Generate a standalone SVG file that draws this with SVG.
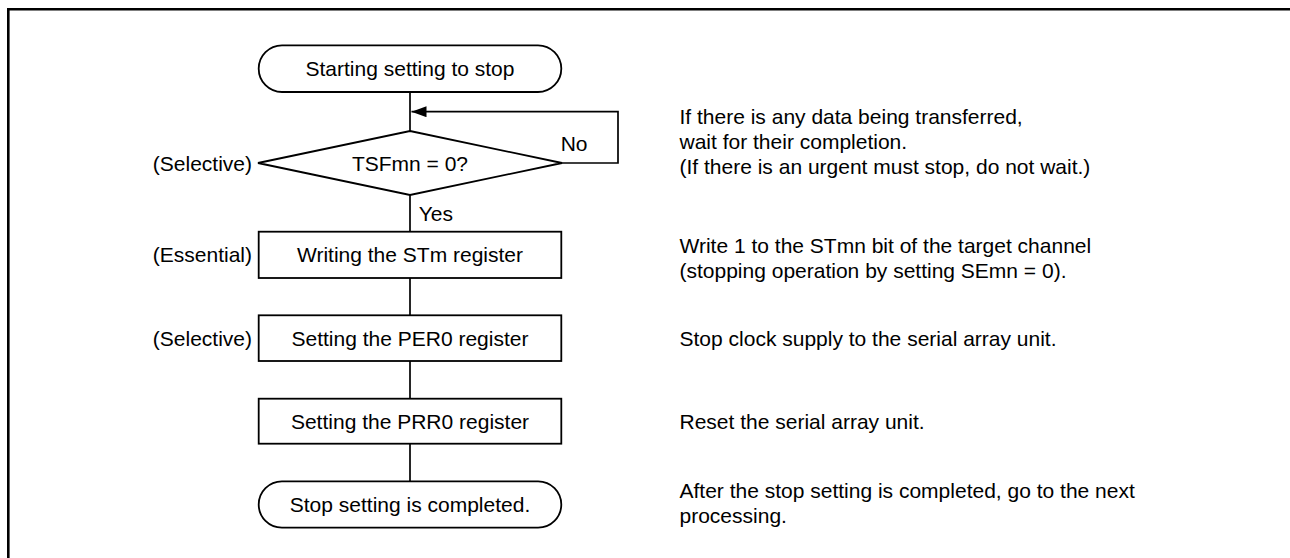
<svg xmlns="http://www.w3.org/2000/svg" width="1290" height="558" viewBox="0 0 1290 558">
<style>
text{font-family:"Liberation Sans",Arial,sans-serif;font-size:21px;fill:#000}
.c{text-anchor:middle}
.e{text-anchor:end}
.s{fill:#fff;stroke:#000;stroke-width:1.8}
.l{fill:none;stroke:#000;stroke-width:1.7}
</style>
<defs>
<marker id="ah" markerWidth="16" markerHeight="12" refX="15" refY="5.5" orient="auto" markerUnits="userSpaceOnUse">
<path d="M0,0 L15,5.5 L0,11 Z" fill="#000"/>
</marker>
</defs>
<rect width="1290" height="558" fill="#fff"/>
<path d="M8.3,560 V9.3 H1292" fill="none" stroke="#000" stroke-width="2.6"/>
<g id="connectors">
<line class="l" x1="410" y1="92" x2="410" y2="131"/>
<path class="l" d="M562,163 H618 V111.7 H411.5" marker-end="url(#ah)"/>
<line class="l" x1="410" y1="195" x2="410" y2="231.7"/>
<line class="l" x1="410" y1="278" x2="410" y2="315.3"/>
<line class="l" x1="410" y1="361" x2="410" y2="398.7"/>
<line class="l" x1="410" y1="443.7" x2="410" y2="481.3"/>
<text x="560.7" y="150.7">No</text>
<text x="418.7" y="221">Yes</text>
</g>
<g id="start">
<rect class="s" x="258.7" y="45.3" width="302.6" height="46.7" rx="23.3"/>
<text class="c" x="410" y="76.2">Starting setting to stop</text>
</g>
<g id="decision">
<polygon class="s" points="410,131 562,163 410,195 258,163"/>
<text class="c" x="410" y="170.5">TSFmn = 0?</text>
<text class="e" x="252" y="170.5">(Selective)</text>
</g>
<g id="writeSTm">
<rect class="s" x="258.7" y="231.7" width="302.6" height="46.3"/>
<text class="c" x="410" y="262.4">Writing the STm register</text>
<text class="e" x="252" y="262.4">(Essential)</text>
</g>
<g id="setPER0">
<rect class="s" x="258.7" y="315.3" width="302.6" height="45.7"/>
<text class="c" x="410" y="345.7">Setting the PER0 register</text>
<text class="e" x="252" y="345.7">(Selective)</text>
</g>
<g id="setPRR0">
<rect class="s" x="258.7" y="398.7" width="302.6" height="45"/>
<text class="c" x="410" y="428.7">Setting the PRR0 register</text>
</g>
<g id="end">
<rect class="s" x="258.7" y="481.3" width="302.6" height="46.4" rx="23.2"/>
<text class="c" x="410" y="512">Stop setting is completed.</text>
</g>
<g id="notes">
<text x="679.5" y="124">If there is any data being transferred,</text>
<text x="679.5" y="149">wait for their completion.</text>
<text x="679.5" y="174">(If there is an urgent must stop, do not wait.)</text>
<text x="679.5" y="252.5">Write 1 to the STmn bit of the target channel</text>
<text x="679.5" y="277.5">(stopping operation by setting SEmn = 0).</text>
<text x="679.5" y="345.7">Stop clock supply to the serial array unit.</text>
<text x="679.5" y="428.7">Reset the serial array unit.</text>
<text x="679.5" y="498.3">After the stop setting is completed, go to the next</text>
<text x="679.5" y="523">processing.</text>
</g>
</svg>
